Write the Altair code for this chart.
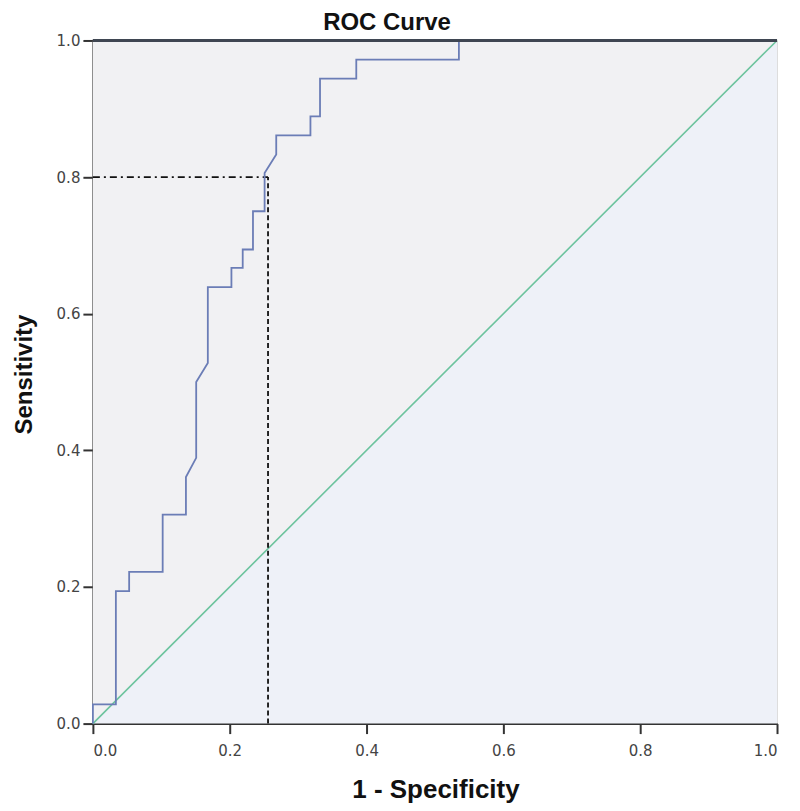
import altair as alt
import pandas as pd

# ROC curve points (1 - specificity, sensitivity)
fpr = [0.0, 0.0, 0.0336, 0.0336, 0.053, 0.053, 0.102, 0.102, 0.136, 0.136, 0.151, 0.151,
       0.168, 0.168, 0.2025, 0.2025, 0.219, 0.219, 0.234, 0.234, 0.251, 0.251, 0.268, 0.268,
       0.318, 0.318, 0.332, 0.332, 0.385, 0.385, 0.535, 0.535, 1.0]
tpr = [0.0, 0.028, 0.028, 0.194, 0.194, 0.222, 0.222, 0.306, 0.306, 0.361, 0.389, 0.5,
       0.528, 0.639, 0.639, 0.667, 0.667, 0.694, 0.694, 0.75, 0.75, 0.806, 0.833, 0.861,
       0.861, 0.889, 0.889, 0.944, 0.944, 0.972, 0.972, 1.0, 1.0]

ref_x = [0.0, 1.0]
ref_y = [0.0, 1.0]

cut_fpr = 0.256
cut_tpr = 0.80

tick_vals = [0.0, 0.2, 0.4, 0.6, 0.8, 1.0]

FONT = "'Liberation Sans', Arial, sans-serif"
LFONT = "'DejaVu Sans', sans-serif"

roc = pd.DataFrame({"x": fpr, "y": tpr, "o": list(range(len(fpr)))})
diag = pd.DataFrame({"x": ref_x, "y": ref_y})
hline = pd.DataFrame({"x": [0.0, cut_fpr], "y": [cut_tpr, cut_tpr]})
vline = pd.DataFrame({"x": [cut_fpr, cut_fpr], "y": [0.0, cut_tpr]})

xs = alt.Scale(domain=[0, 1], nice=False, zero=False)
ys = alt.Scale(domain=[0, 1], nice=False, zero=False)

xaxis = alt.Axis(values=tick_vals, format=".1f", title="1 - Specificity", grid=False,
                 domainColor="#333333", domainWidth=2, tickColor="#333333", tickWidth=2,
                 tickSize=10, labelFontSize=15, labelColor="#444444", labelFont=LFONT,
                 labelPadding=10, titleFont=FONT, titleFontSize=26, titleFontWeight="bold",
                 titleColor="#111111", titleX=343, titleY=74, titleBaseline="alphabetic")
yaxis = alt.Axis(values=tick_vals, format=".1f", title="Sensitivity", grid=False,
                 domainColor="#333333", domainWidth=2, tickColor="#333333", tickWidth=2,
                 tickSize=10, labelFontSize=15, labelColor="#444444", labelFont=LFONT,
                 labelPadding=3, titleFont=FONT, titleFontSize=24, titleFontWeight="bold",
                 titleColor="#111111", titleX=-68, titleY=334, titleAngle=-90,
                 titleBaseline="middle")

upper = alt.Chart(diag).mark_area(color="#f1f1f3", opacity=1).encode(
    x=alt.X("x:Q", scale=xs, axis=xaxis),
    y=alt.Y("y:Q", scale=ys, axis=yaxis),
    y2=alt.Y2(datum=1),
)
lower = alt.Chart(diag).mark_area(color="#eef1f8", opacity=1).encode(
    x=alt.X("x:Q", scale=xs),
    y=alt.Y("y:Q", scale=ys),
    y2=alt.Y2(datum=0),
)
top_border = alt.Chart(diag).mark_rule(color="#3f4652", strokeWidth=3).encode(
    x=alt.value(0), x2=alt.value(685), y=alt.value(0)
)
ref_line = alt.Chart(diag).mark_line(color="#6cc39e", strokeWidth=1.6).encode(
    x="x:Q", y="y:Q"
)
curve = alt.Chart(roc).mark_line(color="#6b7db6", strokeWidth=1.8).encode(
    x="x:Q", y="y:Q", order="o:Q"
)
h = alt.Chart(hline).mark_line(color="#111111", strokeWidth=1.8, strokeDash=[7, 4, 2, 4]).encode(
    x="x:Q", y="y:Q"
)
v = alt.Chart(vline).mark_line(color="#111111", strokeWidth=1.8, strokeDash=[5, 3]).encode(
    x="x:Q", y="y:Q"
)

chart = alt.layer(upper, lower, ref_line, v, h, curve, top_border).properties(
    width=685,
    height=684,
    title=alt.TitleParams("ROC Curve", font=FONT, fontSize=24, fontWeight="bold",
                          color="#111111", anchor="middle", offset=-2, dx=-48),
    autosize=alt.AutoSizeParams(type="none"),
    padding={"left": 85, "top": 32, "right": 15, "bottom": 79},
).configure_view(stroke="#8e949c", strokeWidth=2.5).configure(background="white")

chart.save("out.html", embed_options={"renderer": "svg", "actions": False})
